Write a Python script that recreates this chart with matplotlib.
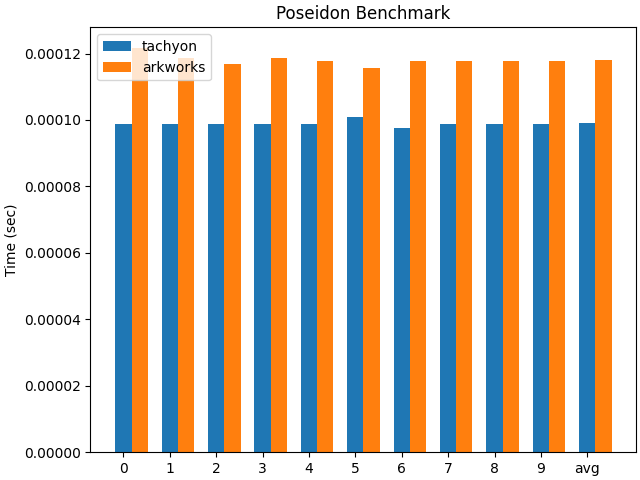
import numpy as np
import matplotlib
matplotlib.use('Agg')
import matplotlib.pyplot as plt

labels = ['0', '1', '2', '3', '4', '5', '6', '7', '8', '9', 'avg']
tachyon = [0.0000989, 0.0000989, 0.0000989, 0.0000989, 0.0000989, 0.0001008,
           0.0000977, 0.0000989, 0.0000989, 0.0000989, 0.0000990]
arkworks = [0.0001218, 0.0001188, 0.0001170, 0.0001188, 0.0001179, 0.0001158,
            0.0001179, 0.0001179, 0.0001179, 0.0001179, 0.0001182]

x = np.arange(len(labels))
width = 0.35

fig, ax = plt.subplots(figsize=(6.4, 4.8), dpi=100)
ax.bar(x, tachyon, width, label='tachyon')
ax.bar(x + width, arkworks, width, label='arkworks')

ax.set_ylabel('Time (sec)')
ax.set_title('Poseidon Benchmark')
ax.set_xticks(x)
ax.set_xticklabels(labels)
ax.legend(loc='upper left')

fig.subplots_adjust(left=0.1414, right=0.9945, bottom=0.0583, top=0.943)
fig.savefig('out.png')
